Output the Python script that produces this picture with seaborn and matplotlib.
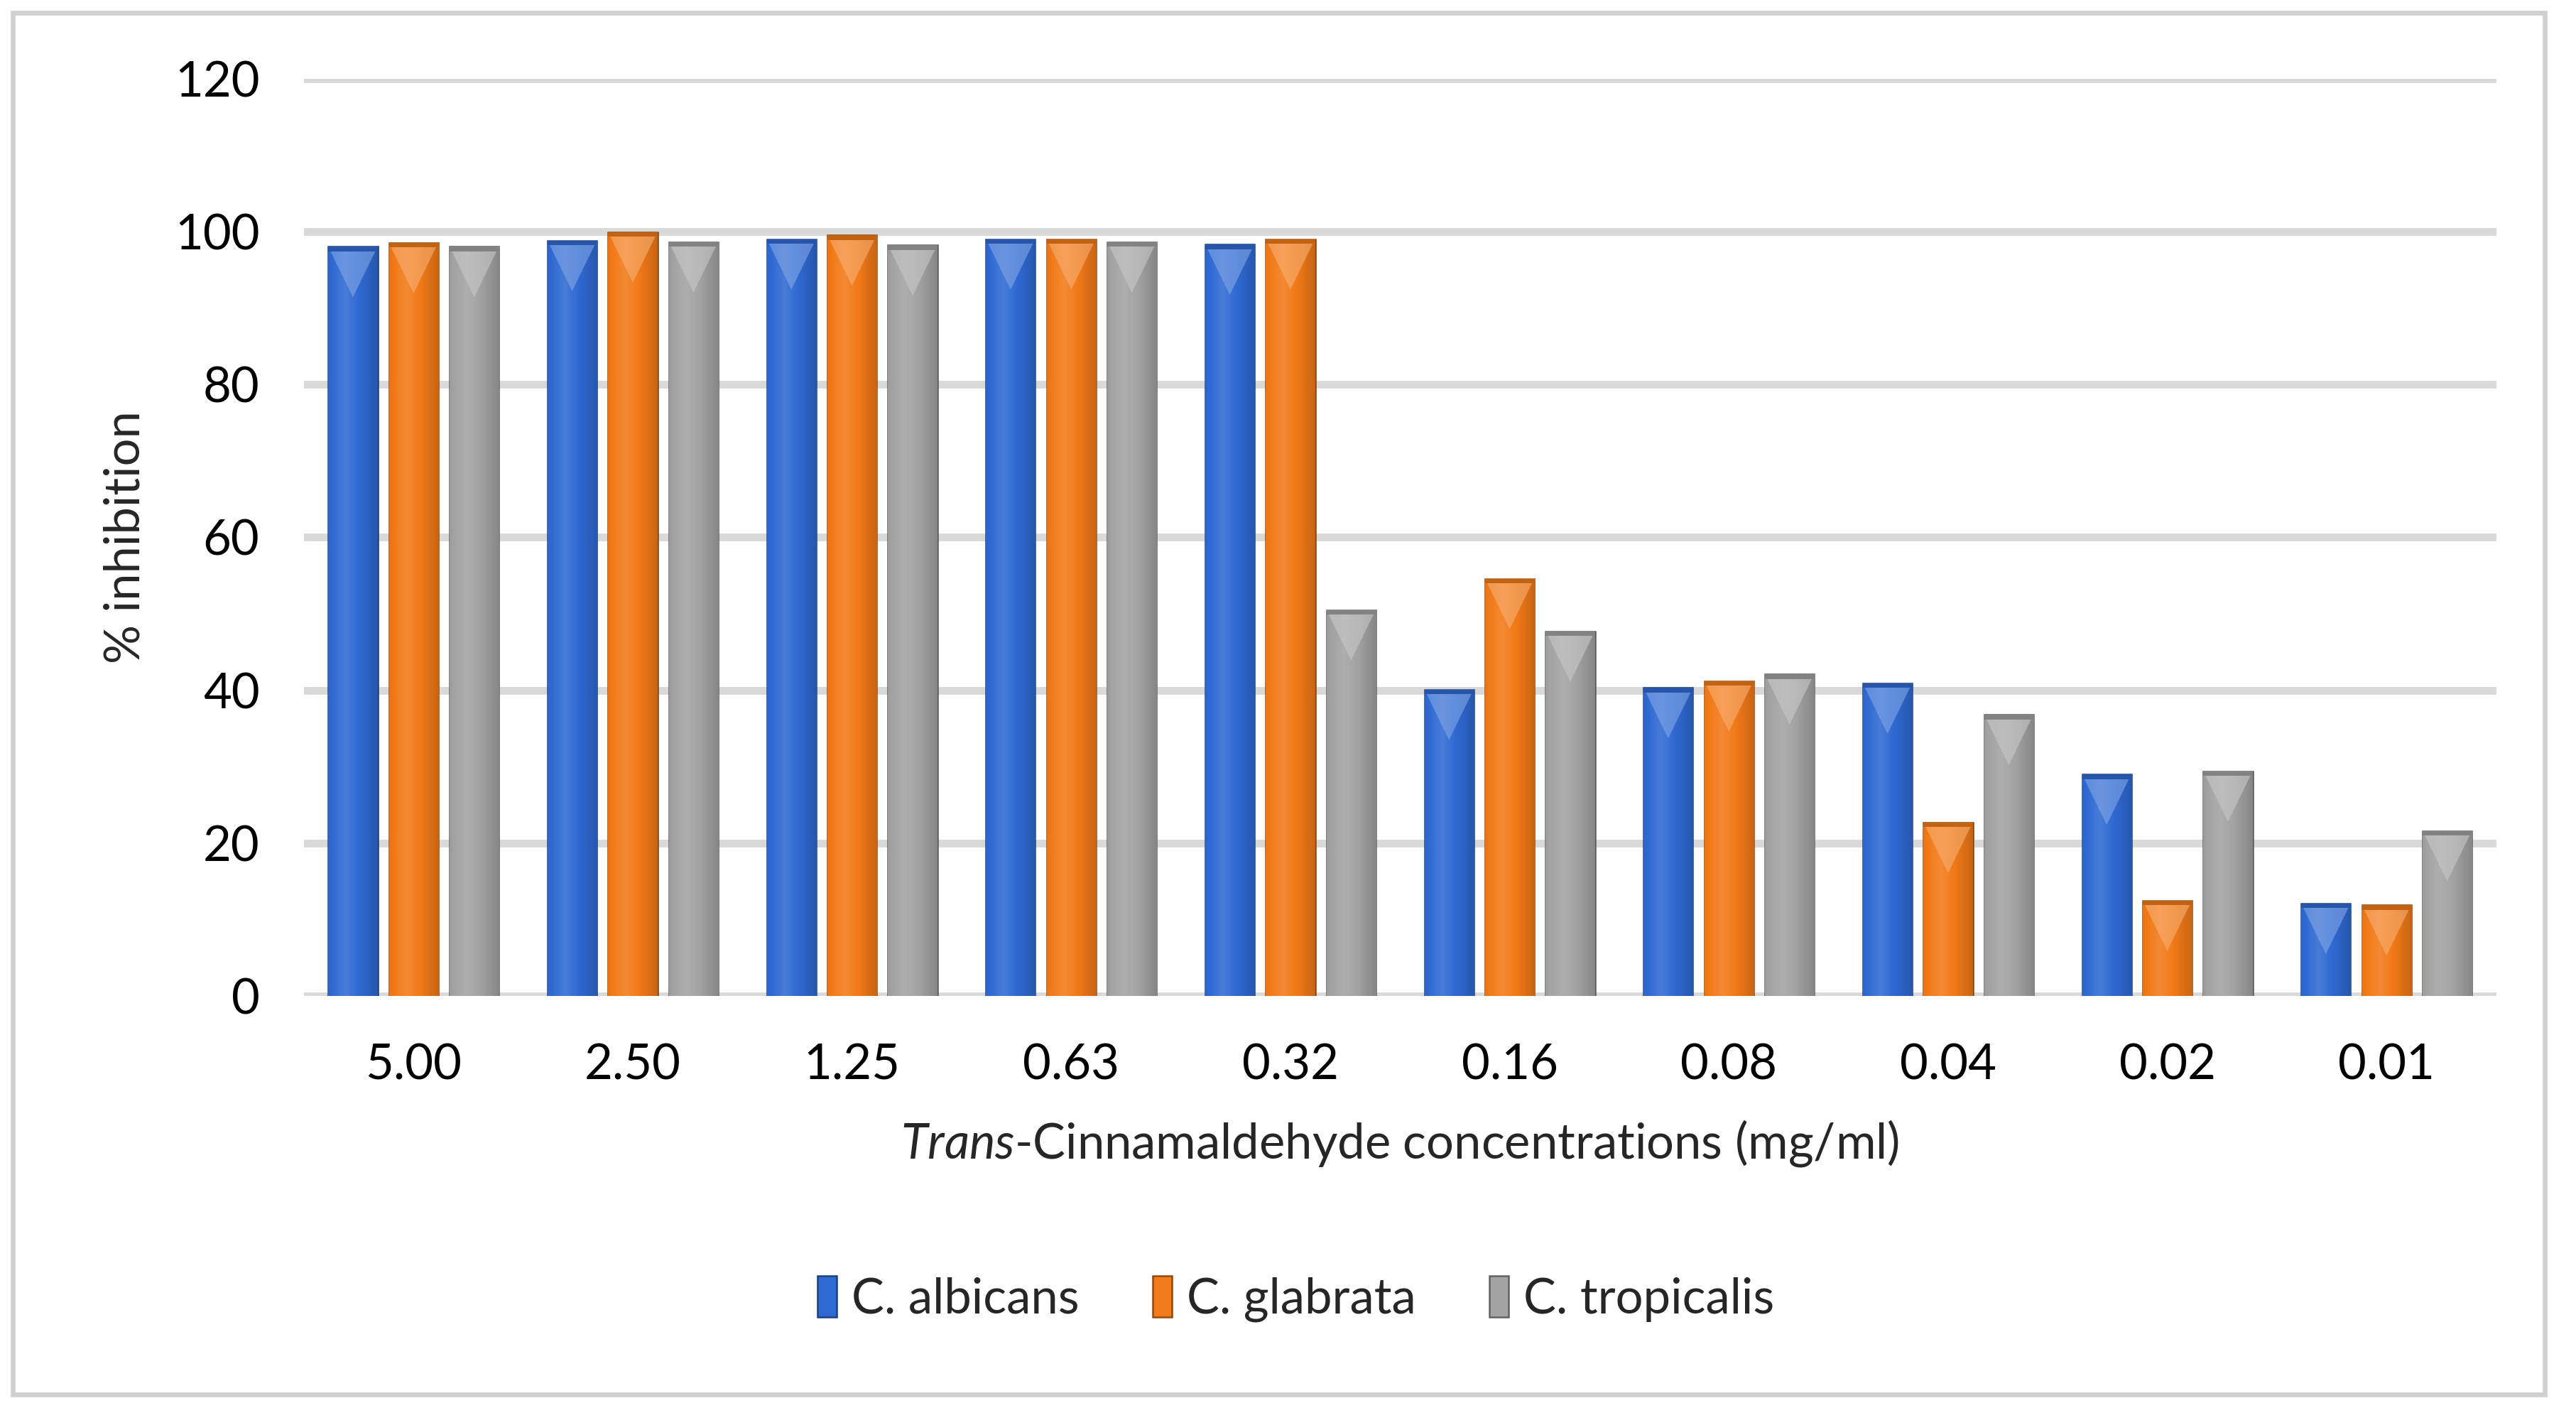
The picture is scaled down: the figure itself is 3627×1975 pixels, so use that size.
import numpy as np
import pandas as pd
import matplotlib
matplotlib.use("Agg")
import matplotlib.pyplot as plt
from matplotlib.patches import Rectangle, Polygon
from matplotlib.colors import to_rgb
import seaborn as sns

# values
concentrations = ["5.00", "2.50", "1.25", "0.63", "0.32", "0.16", "0.08", "0.04", "0.02", "0.01"]
species = ["C. albicans", "C. glabrata", "C. tropicalis"]
albicans = [98.0, 98.8, 99.0, 99.0, 98.3, 40.1, 40.3, 40.9, 29.0, 12.1]
glabrata = [98.5, 99.9, 99.5, 99.0, 99.0, 54.6, 41.2, 22.7, 12.5, 11.9]
tropicalis = [98.0, 98.6, 98.2, 98.6, 50.5, 47.7, 42.1, 36.8, 29.4, 21.6]

colors = {"C. albicans": "#2F6AD3", "C. glabrata": "#F27A18", "C. tropicalis": "#A3A3A3"}

df = pd.DataFrame({
    "conc": concentrations * 3,
    "species": np.repeat(species, len(concentrations)),
    "value": albicans + glabrata + tropicalis,
})

sns.set_theme(style="white")
plt.rcParams["font.family"] = ["Lato", "DejaVu Sans"]
plt.rcParams["mathtext.fontset"] = "custom"
plt.rcParams["mathtext.it"] = "Lato:italic"
plt.rcParams["mathtext.rm"] = "Lato"

FS = 16.5

fig = plt.figure(figsize=(3627 / 300, 1975 / 300), dpi=300)
ax = fig.add_axes([0.118, 0.290, 0.851, 0.654])

sns.barplot(data=df, x="conc", y="value", hue="species", palette=colors,
            width=0.83, gap=0.19, order=concentrations, hue_order=species,
            ax=ax, legend=False, zorder=3)


def shade(c, f):
    r = np.array(to_rgb(c))
    return tuple(np.clip(r * f, 0, 1)) if f < 1 else tuple(r + (1 - r) * (f - 1))


# fake bevel: horizontal gradient + light triangle at the top of each bar
for bars, sp in zip(ax.containers, species):
    base = colors[sp]
    for p in bars:
        x0, y0 = p.get_x(), p.get_y()
        w, h = p.get_width(), p.get_height()
        grad = np.linspace(0, 1, 64)
        cols = np.array([shade(base, 1.12 - 0.3 * abs(g - 0.35) * 1.5) for g in grad])
        im = ax.imshow(cols[np.newaxis, :, :], extent=[x0, x0 + w, y0, y0 + h],
                       aspect="auto", zorder=4, interpolation="bicubic")
        im.set_clip_path(p)
        p.set_edgecolor(shade(base, 0.55))
        p.set_linewidth(0.6)
        tri_h = min(3.0, h)
        ax.add_patch(Polygon([[x0, y0 + h], [x0 + w, y0 + h], [x0 + w / 2, y0 + h - tri_h * 2.2]],
                             closed=True, facecolor=shade(base, 1.4), edgecolor="none",
                             alpha=0.6, zorder=5))
        ax.add_patch(Rectangle((x0, y0 + h - 0.6), w, 0.6, facecolor=shade(base, 0.8),
                               edgecolor="none", zorder=5))

ax.set_xlim(-0.5, len(concentrations) - 0.5)
ax.set_ylim(0, 120)
ax.set_yticks(np.arange(0, 121, 20))
ax.yaxis.grid(True, color="#D9D9D9", linewidth=2.6, zorder=0)
ax.set_axisbelow(True)
for s in ax.spines.values():
    s.set_visible(False)
ax.tick_params(axis="both", length=0, labelsize=FS, colors="black")
ax.tick_params(axis="x", pad=16)
ax.tick_params(axis="y", pad=15)

ax.set_ylabel("% inhibition", fontsize=FS, labelpad=9)
ax.set_xlabel(r"$\it{Trans}$-Cinnamaldehyde concentrations (mg/ml)", fontsize=FS, labelpad=10)

handles = [Rectangle((0, 0), 1, 1, facecolor=colors[s], edgecolor=shade(colors[s], 0.6), linewidth=0.6)
           for s in species]
fig.legend(handles, species, loc="center", bbox_to_anchor=(0.503, 0.074), ncol=3,
           frameon=False, fontsize=FS, handlelength=0.4, handleheight=0.9,
           handletextpad=0.3, columnspacing=1.5)

fig.patches.append(Rectangle((0.005, 0.006), 0.983, 0.985, transform=fig.transFigure,
                             fill=False, edgecolor="#D0D0D0", linewidth=1.6))

fig.savefig("out.png", dpi=300)
